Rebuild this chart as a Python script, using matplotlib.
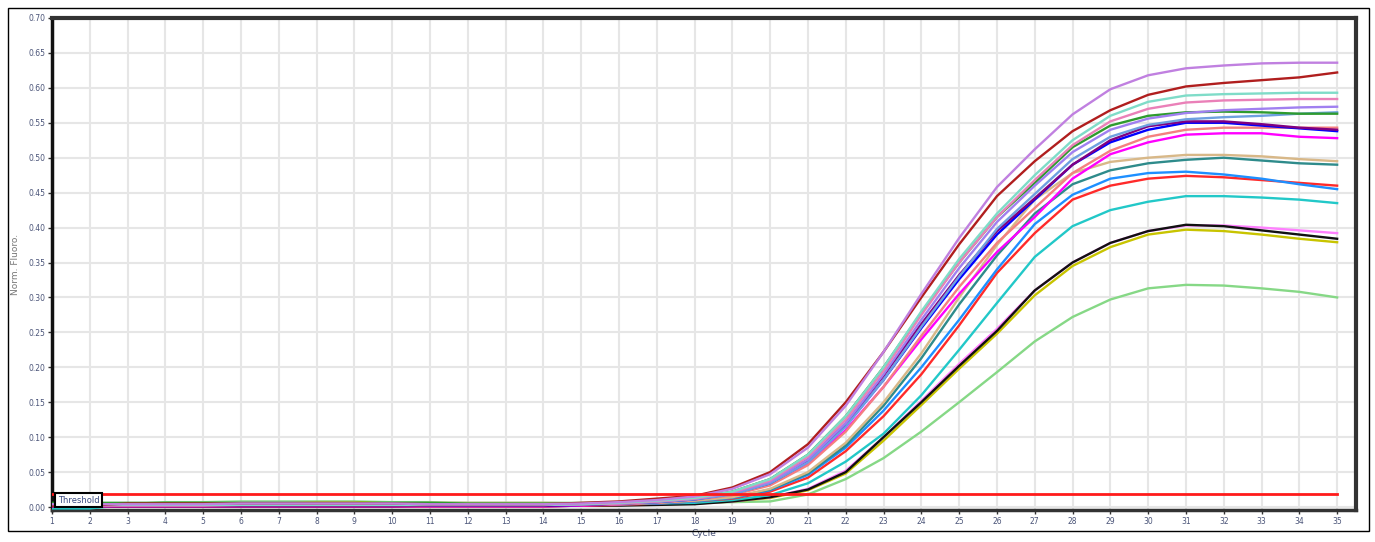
import numpy as np
import matplotlib.pyplot as plt
from matplotlib.patches import Rectangle

cycles = list(range(1, 36))
threshold = 0.018

violet = [0.004, 0.004, 0.004, 0.004, 0.004, 0.005, 0.005, 0.005, 0.005, 0.005, 0.004, 0.004, 0.004, 0.004,
          0.005, 0.007, 0.010, 0.015, 0.026, 0.047, 0.085, 0.145, 0.222, 0.305, 0.385, 0.458, 0.512, 0.562,
          0.598, 0.618, 0.628, 0.632, 0.635, 0.636, 0.636]
darkred = [0.002, 0.002, 0.005, 0.005, 0.005, 0.005, 0.005, 0.005, 0.005, 0.005, 0.004, 0.004, 0.004, 0.004,
           0.006, 0.008, 0.012, 0.016, 0.028, 0.050, 0.090, 0.150, 0.222, 0.300, 0.376, 0.445, 0.495, 0.538,
           0.568, 0.590, 0.602, 0.607, 0.611, 0.615, 0.622]
aqua = [0.003, 0.003, 0.003, 0.003, 0.003, 0.003, 0.003, 0.003, 0.003, 0.003, 0.003, 0.003, 0.003, 0.003,
        0.004, 0.006, 0.009, 0.013, 0.022, 0.040, 0.075, 0.130, 0.200, 0.280, 0.355, 0.420, 0.475, 0.525,
        0.560, 0.580, 0.589, 0.591, 0.592, 0.593, 0.593]
pink = [0.002, 0.002, 0.002, 0.002, 0.002, 0.003, 0.003, 0.003, 0.003, 0.003, 0.003, 0.003, 0.003, 0.003,
        0.004, 0.005, 0.008, 0.012, 0.021, 0.038, 0.072, 0.125, 0.195, 0.275, 0.350, 0.415, 0.468, 0.518,
        0.552, 0.570, 0.579, 0.582, 0.583, 0.584, 0.584]
lavender = [0.003, 0.003, 0.003, 0.003, 0.003, 0.003, 0.003, 0.003, 0.003, 0.003, 0.003, 0.003, 0.003, 0.003,
            0.004, 0.005, 0.008, 0.012, 0.020, 0.036, 0.068, 0.120, 0.190, 0.268, 0.342, 0.408, 0.460, 0.508,
            0.540, 0.556, 0.564, 0.568, 0.570, 0.572, 0.573]
green = [0.006, 0.006, 0.006, 0.006, 0.006, 0.006, 0.006, 0.006, 0.006, 0.006, 0.006, 0.005, 0.005, 0.005,
         0.005, 0.006, 0.009, 0.013, 0.022, 0.040, 0.075, 0.130, 0.200, 0.278, 0.350, 0.415, 0.464, 0.515,
         0.546, 0.560, 0.565, 0.566, 0.565, 0.563, 0.563]
steelblue = [0.004, 0.004, 0.004, 0.004, 0.004, 0.004, 0.004, 0.004, 0.004, 0.004, 0.004, 0.004, 0.004, 0.004,
             0.004, 0.005, 0.007, 0.011, 0.018, 0.034, 0.064, 0.115, 0.182, 0.258, 0.330, 0.398, 0.448, 0.498,
             0.530, 0.547, 0.555, 0.558, 0.560, 0.563, 0.565]
purple = [0.001, 0.001, 0.001, 0.001, 0.001, 0.001, 0.001, 0.001, 0.001, 0.001, 0.002, 0.002, 0.002, 0.002,
          0.003, 0.005, 0.008, 0.012, 0.020, 0.036, 0.068, 0.120, 0.188, 0.262, 0.332, 0.395, 0.442, 0.490,
          0.525, 0.545, 0.552, 0.552, 0.548, 0.543, 0.540]
blue = [0.002, 0.002, 0.002, 0.002, 0.002, 0.002, 0.002, 0.002, 0.002, 0.002, 0.002, 0.002, 0.002, 0.002,
        0.003, 0.005, 0.007, 0.011, 0.019, 0.034, 0.065, 0.116, 0.182, 0.256, 0.326, 0.390, 0.440, 0.490,
        0.522, 0.540, 0.550, 0.550, 0.546, 0.542, 0.538]
salmon = [0.003, 0.003, 0.003, 0.003, 0.003, 0.003, 0.003, 0.003, 0.003, 0.003, 0.003, 0.003, 0.003, 0.003,
          0.003, 0.004, 0.006, 0.010, 0.017, 0.031, 0.060, 0.108, 0.172, 0.245, 0.315, 0.378, 0.428, 0.478,
          0.510, 0.530, 0.540, 0.543, 0.543, 0.543, 0.543]
magenta = [0.001, 0.001, 0.001, 0.001, 0.001, 0.001, 0.001, 0.001, 0.001, 0.001, 0.001, 0.001, 0.001, 0.001,
           0.002, 0.004, 0.007, 0.011, 0.018, 0.033, 0.062, 0.110, 0.172, 0.240, 0.305, 0.365, 0.415, 0.470,
           0.505, 0.522, 0.533, 0.535, 0.535, 0.530, 0.528]
tan = [0.004, 0.004, 0.004, 0.004, 0.004, 0.004, 0.004, 0.004, 0.004, 0.004, 0.006, 0.006, 0.006, 0.006,
       0.005, 0.005, 0.006, 0.009, 0.014, 0.026, 0.050, 0.092, 0.150, 0.220, 0.300, 0.375, 0.440, 0.478,
       0.494, 0.500, 0.504, 0.504, 0.502, 0.498, 0.495]
teal = [0.003, 0.003, 0.003, 0.003, 0.003, 0.003, 0.003, 0.003, 0.003, 0.003, 0.005, 0.005, 0.005, 0.005,
        0.004, 0.004, 0.006, 0.009, 0.014, 0.025, 0.048, 0.088, 0.145, 0.213, 0.290, 0.360, 0.420, 0.462,
        0.482, 0.492, 0.497, 0.500, 0.496, 0.492, 0.490]
dodger = [0.002, 0.002, 0.002, 0.002, 0.002, 0.005, 0.005, 0.005, 0.005, 0.005, 0.003, 0.003, 0.003, 0.003,
          0.003, 0.004, 0.005, 0.008, 0.013, 0.024, 0.046, 0.085, 0.138, 0.200, 0.268, 0.340, 0.405, 0.447,
          0.470, 0.478, 0.480, 0.476, 0.470, 0.462, 0.455]
red = [0.001, 0.001, 0.001, 0.001, 0.001, 0.001, 0.001, 0.001, 0.001, 0.001, 0.001, 0.001, 0.001, 0.001,
       0.002, 0.003, 0.005, 0.008, 0.012, 0.022, 0.042, 0.080, 0.130, 0.190, 0.260, 0.335, 0.392, 0.440,
       0.460, 0.470, 0.474, 0.472, 0.468, 0.464, 0.460]
cyan = [-0.002, -0.002, 0.003, 0.003, 0.003, 0.003, 0.003, 0.003, 0.004, 0.004, 0.005, 0.005, 0.005, 0.005,
        0.004, 0.004, 0.005, 0.006, 0.010, 0.017, 0.034, 0.065, 0.105, 0.160, 0.225, 0.292, 0.358, 0.402,
        0.425, 0.437, 0.445, 0.445, 0.443, 0.440, 0.435]
lightpink = [0.003, 0.003, 0.003, 0.003, 0.003, 0.006, 0.006, 0.006, 0.006, 0.003, 0.003, 0.003, 0.003, 0.003,
             0.003, 0.003, 0.004, 0.005, 0.008, 0.014, 0.026, 0.052, 0.100, 0.152, 0.205, 0.255, 0.310, 0.350,
             0.378, 0.395, 0.403, 0.403, 0.400, 0.396, 0.392]
black = [0.000, 0.000, 0.001, 0.001, 0.001, 0.001, 0.001, 0.001, 0.001, 0.001, 0.001, 0.001, 0.001, 0.001,
         0.002, 0.002, 0.003, 0.004, 0.008, 0.014, 0.025, 0.050, 0.100, 0.150, 0.202, 0.252, 0.310, 0.350,
         0.378, 0.395, 0.404, 0.402, 0.396, 0.390, 0.384]
yellow = [0.005, 0.005, 0.005, 0.005, 0.005, 0.005, 0.005, 0.007, 0.007, 0.005, 0.005, 0.005, 0.005, 0.005,
          0.004, 0.004, 0.004, 0.005, 0.008, 0.013, 0.024, 0.048, 0.095, 0.146, 0.198, 0.248, 0.303, 0.345,
          0.372, 0.390, 0.397, 0.395, 0.390, 0.384, 0.379]
lightgreen = [0.004, 0.004, 0.004, 0.007, 0.007, 0.008, 0.008, 0.008, 0.008, 0.007, 0.007, 0.006, 0.006, 0.006,
              0.006, 0.006, 0.006, 0.006, 0.007, 0.008, 0.018, 0.040, 0.070, 0.108, 0.150, 0.193, 0.237, 0.272,
              0.297, 0.313, 0.318, 0.317, 0.313, 0.308, 0.300]

series = [
    (lightgreen, '#86d886'), (yellow, '#c8c400'), (lightpink, '#ff80ff'), (black, '#111111'),
    (cyan, '#22c8c8'), (red, '#ff2a2a'), (dodger, '#1e8fff'), (teal, '#2e8b8b'), (tan, '#d8b888'),
    (magenta, '#ff00ff'), (salmon, '#f48080'), (blue, '#0000ff'), (purple, '#800080'),
    (steelblue, '#6ea0e0'), (green, '#2e9b2e'), (lavender, '#a080f0'), (pink, '#ea80b8'),
    (aqua, '#7fdcc8'), (darkred, '#b01e1e'), (violet, '#c080e0'),
]

fig = plt.figure(figsize=(13.75, 5.42), dpi=100)
fig.patch.set_facecolor('white')
ax = fig.add_axes([0.0378, 0.059, 0.9484, 0.9078])

for vals, col in series:
    ax.plot(cycles, vals, color=col, linewidth=1.7, zorder=3)

ax.plot([cycles[0], cycles[-1]], [threshold, threshold], color='#ff1a1a', linewidth=2, zorder=4)

ax.set_xlim(1, 35.5)
ax.set_ylim(-0.0043, 0.70)
ax.set_xticks(cycles)
ax.set_yticks(np.arange(0, 0.701, 0.05))
ax.set_yticklabels([f'{v:.2f}' for v in np.arange(0, 0.701, 0.05)])
ax.grid(True, color='#e6e6e6', linewidth=1.5, zorder=0)
ax.set_axisbelow(True)
ax.tick_params(axis='both', labelsize=5.5, labelcolor='#4a5478', length=3, width=1, color='#333333', pad=2)

ax.set_xlabel('Cycle', fontsize=6.5, color='#4a5478', labelpad=2)
ax.set_ylabel('Norm. Fluoro.', fontsize=6.5, color='#777777', labelpad=6)

ax.spines['left'].set_color('#111111')
ax.spines['left'].set_linewidth(2.5)
ax.spines['bottom'].set_color('#333333')
ax.spines['bottom'].set_linewidth(2.5)
for side in ['top', 'right']:
    ax.spines[side].set_color('#333333')
    ax.spines[side].set_linewidth(3)

ax.text(1.15, 0.003, 'Threshold', fontsize=6, color='#3a4a80', va='bottom', ha='left', zorder=5,
        bbox=dict(boxstyle='square,pad=0.3', facecolor='white', edgecolor='black', linewidth=1.5))

fig.patches.append(Rectangle((0.0058, 0.0203), 0.9898, 0.9649, transform=fig.transFigure,
                             fill=False, edgecolor='black', linewidth=1))

plt.savefig('out.png', dpi=100, facecolor='white')
